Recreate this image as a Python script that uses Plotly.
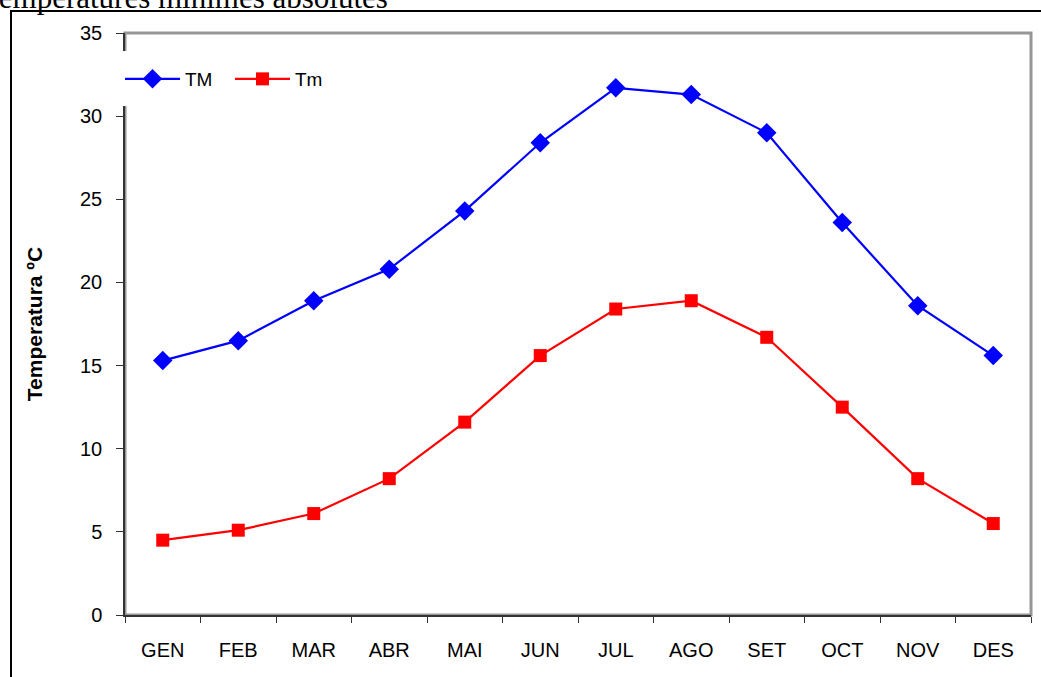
import plotly.graph_objects as go

months = ["GEN", "FEB", "MAR", "ABR", "MAI", "JUN", "JUL", "AGO", "SET", "OCT", "NOV", "DES"]
tmax = [15.3, 16.5, 18.9, 20.8, 24.3, 28.4, 31.7, 31.3, 29.0, 23.6, 18.6, 15.6]
tmin = [4.5, 5.1, 6.1, 8.2, 11.6, 15.6, 18.4, 18.9, 16.7, 12.5, 8.2, 5.5]
y_ticks = [0, 5, 10, 15, 20, 25, 30, 35]

W, H = 1041, 677
L, R, T, B = 125, 10, 33, 62
PW, PH = W - L - R, H - T - B


def px_x(p):
    return (p - L) / PW


def px_y(p):
    return (H - B - p) / PH


fig = go.Figure()
fig.add_trace(go.Scatter(x=months, y=tmax, name="TM", mode="lines+markers",
                         line=dict(color="#0000FF", width=2.2),
                         marker=dict(symbol="diamond", size=15, color="#0000FF")))
fig.add_trace(go.Scatter(x=months, y=tmin, name="Tm", mode="lines+markers",
                         line=dict(color="#FF0000", width=2.2),
                         marker=dict(symbol="square", size=13, color="#FF0000")))

font = "Liberation Sans, Arial, sans-serif"

fig.update_layout(
    width=W, height=H,
    margin=dict(l=L, r=R, t=T, b=B),
    paper_bgcolor="white", plot_bgcolor="white",
    font=dict(family=font, size=20, color="black"),
    showlegend=True,
    legend=dict(orientation="h", x=px_x(120), xanchor="left", y=px_y(79), yanchor="middle",
                bgcolor="rgba(0,0,0,0)", font=dict(size=19), itemwidth=55, tracegroupgap=0,
                entrywidth=40, entrywidthmode="pixels"),
    xaxis=dict(type="category", categoryarray=months, range=[-0.5, 11.5],
               showline=True, linecolor="#333333", linewidth=1.5,
               ticks="outside", tickson="boundaries", ticklen=6, tickcolor="#333333",
               showgrid=False, zeroline=False, ticklabelstandoff=16,
               tickfont=dict(size=20)),
    yaxis=dict(range=[0, 35], tickvals=y_ticks, showline=True, linecolor="#333333", linewidth=1.5,
               ticks="outside", ticklen=7, tickcolor="#333333", showgrid=False, zeroline=False,
               ticklabelstandoff=10, tickfont=dict(size=20),
               title=dict(text="<b>Temperatura ºC</b>", font=dict(size=21), standoff=32)),
    shapes=[
        dict(type="rect", xref="paper", yref="paper", x0=0, x1=1, y0=0, y1=1,
             line=dict(color="#969696", width=3), layer="below"),
        dict(type="rect", xref="paper", yref="paper", x0=px_x(11), x1=px_x(1060),
             y0=px_y(700), y1=px_y(11), line=dict(color="black", width=2), layer="above"),
        dict(type="rect", xref="paper", yref="paper", x0=px_x(116), x1=px_x(330),
             y0=px_y(106), y1=px_y(51), line=dict(width=0), fillcolor="white", layer="above"),
    ],
    annotations=[
        dict(text="Temperatures mínimes absolutes", xref="paper", yref="paper",
             x=px_x(390), y=px_y(17), xanchor="right", yanchor="bottom", showarrow=False,
             font=dict(family="Liberation Serif, Times New Roman, serif", size=31, color="black")),
    ],
)

fig.write_html("out.html", config={"displayModeBar": False},
               post_script="document.body.style.margin='0';")
